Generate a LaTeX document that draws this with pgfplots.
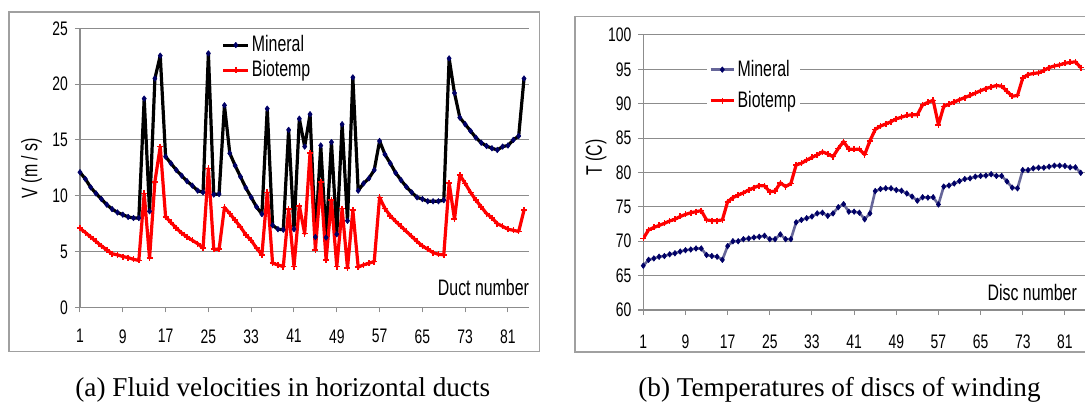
\documentclass[border=0pt]{standalone}
\usepackage{fontspec}
\setmainfont{Liberation Serif}
\newfontfamily\chartfont[FakeStretch=0.71]{Liberation Sans}
\usepackage{pgfplots}
\usepackage{pgfplotstable}
\pgfplotsset{compat=1.18}
\definecolor{navy}{HTML}{000066}
\definecolor{slate}{HTML}{666699}
\definecolor{gridgray}{HTML}{8C8C8C}
\definecolor{framegray}{HTML}{A0A0A0}

% duct velocities (m/s)
\pgfplotstableread{
n mineral biotemp
1 12.1 7.08
2 11.5 6.7
3 10.75 6.3
4 10.2 5.9
5 9.7 5.5
6 9.2 5.15
7 8.8 4.8
8 8.5 4.7
9 8.3 4.55
10 8.1 4.45
11 8.0 4.3
12 8.0 4.2
13 18.7 10.2
14 8.6 4.4
15 20.5 11.25
16 22.55 14.4
17 13.5 8.1
18 12.9 7.6
19 12.3 7.1
20 11.8 6.65
21 11.3 6.3
22 10.9 6.0
23 10.45 5.7
24 10.3 5.3
25 22.75 12.45
26 10.1 5.2
27 10.15 5.2
28 18.1 8.95
29 13.8 8.4
30 12.7 7.8
31 11.7 7.2
32 10.7 6.5
33 9.85 6.0
34 9.0 5.3
35 8.35 4.7
36 17.8 10.3
37 7.35 3.95
38 7.0 3.8
39 6.95 3.65
40 15.9 8.8
41 7.0 3.65
42 16.9 9.1
43 14.4 6.6
44 17.3 13.85
45 6.3 5.15
46 14.5 11.25
47 6.25 4.25
48 14.8 9.6
49 6.55 3.65
50 16.4 8.85
51 7.75 3.5
52 20.6 8.7
53 10.45 3.6
54 11.1 3.8
55 11.55 3.95
56 12.3 4.1
57 14.9 9.85
58 13.7 8.85
59 12.9 8.2
60 12.05 7.7
61 11.4 7.25
62 10.8 6.8
63 10.3 6.35
64 9.85 5.9
65 9.7 5.5
66 9.5 5.2
67 9.5 4.9
68 9.5 4.75
69 9.6 4.7
70 22.3 11.15
71 19.2 7.9
72 17.0 11.85
73 16.4 11.1
74 15.8 10.3
75 15.2 9.6
76 14.75 9.0
77 14.45 8.4
78 14.25 8.0
79 14.1 7.5
80 14.4 7.25
81 14.5 7.0
82 15.0 6.9
83 15.35 6.8
84 20.5 8.7
}\velocity

% disc temperatures (C)
\pgfplotstableread{
n mineral biotemp
1 66.45 70.4
2 67.3 71.65
3 67.5 72.0
4 67.75 72.3
5 67.85 72.6
6 68.1 72.95
7 68.25 73.2
8 68.5 73.6
9 68.7 73.9
10 68.8 74.15
11 68.95 74.3
12 68.95 74.45
13 68.0 73.1
14 67.85 73.0
15 67.75 73.0
16 67.3 73.1
17 69.3 75.75
18 70.0 76.35
19 70.0 76.7
20 70.3 77.05
21 70.4 77.45
22 70.55 77.8
23 70.65 78.1
24 70.8 78.05
25 70.3 77.2
26 70.3 77.3
27 71.0 78.5
28 70.3 77.95
29 70.3 78.4
30 72.75 81.1
31 73.1 81.35
32 73.35 81.8
33 73.6 82.2
34 74.05 82.55
35 74.15 83.0
36 73.7 82.7
37 74.05 82.3
38 74.95 83.5
39 75.4 84.5
40 74.3 83.4
41 74.3 83.35
42 74.15 83.4
43 73.2 82.6
44 74.05 84.6
45 77.3 86.25
46 77.6 86.75
47 77.7 87.05
48 77.7 87.4
49 77.45 87.8
50 77.35 88.05
51 76.95 88.3
52 76.5 88.4
53 75.9 88.4
54 76.4 89.85
55 76.35 90.2
56 76.4 90.5
57 75.35 86.95
58 77.95 89.6
59 78.1 89.95
60 78.4 90.25
61 78.75 90.6
62 79.05 90.9
63 79.15 91.2
64 79.4 91.55
65 79.5 91.9
66 79.55 92.2
67 79.75 92.45
68 79.5 92.65
69 79.5 92.55
70 78.7 91.8
71 77.8 91.1
72 77.7 91.2
73 80.35 93.75
74 80.35 94.25
75 80.6 94.4
76 80.7 94.5
77 80.7 94.85
78 80.85 95.25
79 81.0 95.5
80 81.0 95.65
81 80.95 95.9
82 80.75 96.0
83 80.75 96.1
84 79.95 95.25
}\temperature

\newcommand\tickfont{\chartfont\fontsize{9.8}{10}\selectfont}
\newcommand\labfont{\chartfont\fontsize{11.2}{12}\selectfont}

\pgfplotsset{
  panel/.style={
    scale only axis, xmin=1, xmax=85,
    axis lines*=left,
    axis line style={gridgray, line width=0.6pt},
    ymajorgrids, grid style={gridgray, line width=0.5pt},
    xtick={1,9,...,81},
    tick align=outside, major tick length=2.5pt,
    tick style={gridgray, line width=0.5pt},
    ticklabel style={font=\tickfont, text=black},
    xticklabel style={yshift=-5pt},
    /pgf/number format/assume math mode=true,
    legend cell align=left,
    legend style={draw=none, font=\labfont, inner sep=1pt,
      nodes={inner sep=1pt}},
  },
  minline/.style={black, line width=1.6pt, line join=round,
    mark=diamond*, mark size=1.4pt,
    mark options={draw=navy, fill=navy, line width=0.3pt}},
  bioline/.style={red, line width=1.6pt, line join=round,
    mark=+, mark size=1.5pt, mark options={red, line width=0.8pt}},
}

\begin{document}
\begin{tikzpicture}[x=1pt, y=1pt]
\path[use as bounding box] (0,0) rectangle (542.5,200.5);

% panel frames
\draw[framegray, line width=0.8pt] (4.5,24.65) rectangle (269.65,194.5);
\draw[framegray, line width=0.8pt] (287.5,24.35) rectangle (560,192.15);

% (a) velocities
\begin{axis}[panel,
  at={(40pt,46.85pt)}, anchor=south west,
  width=224.7pt, height=139.5pt,
  ymin=0, ymax=25, ytick={0,5,...,25},
  legend style={at={(rel axis cs:0.31,0.99)}, anchor=north west, fill=none,
    row sep=1pt},
  legend image code/.code={\draw[mark repeat=2, mark phase=2]
    plot coordinates {(0pt,0pt) (6.25pt,0pt) (12.5pt,0pt)};},
]
\addplot[minline] table[x=n, y=mineral] {\velocity};
\addplot[bioline] table[x=n, y=biotemp] {\velocity};
\legend{Mineral, Biotemp}
\node[anchor=south east, inner sep=0, font=\labfont] at (rel axis cs:1,0)
  [yshift=5.5pt] {Duct number};
\end{axis}

% (b) temperatures
\begin{axis}[panel,
  at={(321.65pt,45.5pt)}, anchor=south west,
  width=221.35pt, height=137.5pt,
  ymin=60, ymax=100, ytick={60,65,...,100},
  xticklabel style={yshift=-1.5pt},
  legend style={at={(rel axis cs:0.143,0.925)}, anchor=north west, fill=white,
    row sep=4pt},
  legend image code/.code={\draw[mark repeat=2, mark phase=2]
    plot coordinates {(0pt,0pt) (5.85pt,0pt) (11.7pt,0pt)};},
]
\addplot[minline, slate, line width=1.3pt] table[x=n, y=mineral] {\temperature};
\addplot[bioline] table[x=n, y=biotemp] {\temperature};
\legend{Mineral, Biotemp}
\node[anchor=south east, inner sep=0, font=\labfont] at (rel axis cs:1,0)
  [xshift=-4.35pt, yshift=4.5pt] {Disc number};
\end{axis}

% axis titles
\node[rotate=90, font=\labfont] at (15.85,116.5) {V (m / s)};
\node[rotate=90, font=\labfont] at (298,121.75) {T (C)};

% captions
\node[anchor=base west, inner sep=0, font=\fontsize{13.6}{15}\selectfont]
  at (37.5,2.15) {(a) Fluid velocities in horizontal ducts};
\node[anchor=base west, inner sep=0, font=\fontsize{13.6}{15}\selectfont]
  at (319,2.15) {(b) Temperatures of discs of winding};
\end{tikzpicture}
\end{document}
